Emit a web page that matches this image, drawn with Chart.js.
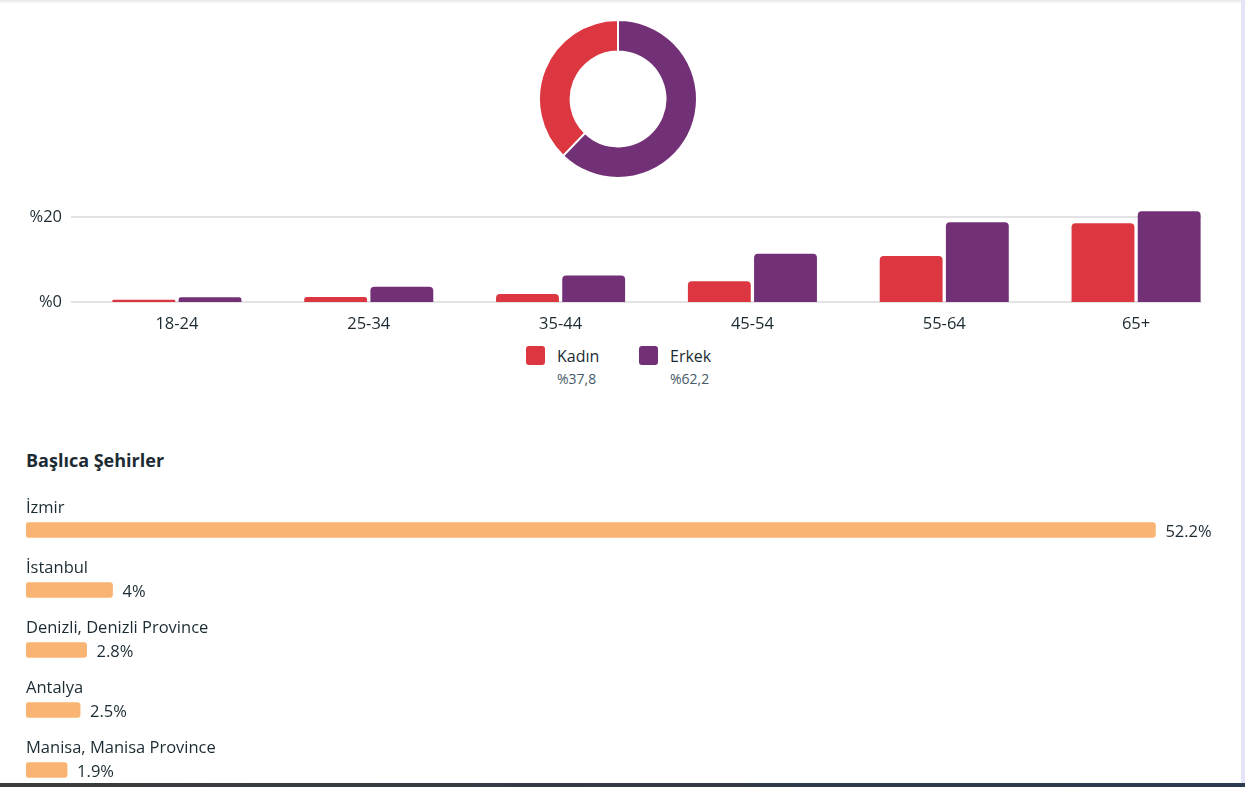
<!DOCTYPE html>
<html>
<head>
<meta charset="utf-8">
<script src="https://cdn.jsdelivr.net/npm/chart.js@4"></script>
<style>
  html, body { margin:0; padding:0; background:#fff; width:1245px; height:787px; overflow:hidden; font-family:"Open Sans", "Noto Sans", sans-serif; color:#1c2b33; }
  .abs { position:absolute; }
  #topShade { left:0; top:0; width:1245px; height:4px; background:linear-gradient(#e6e6ea,#fff); }
  #rightStrip { left:1241px; top:0; width:4px; height:787px; background:#e3e4f5; }
  #bottomStrip { left:0; top:783px; width:1245px; height:4px; background:linear-gradient(90deg,#3b3b3b,#2c3a52); z-index:5; }
  #donutBox { left:538px; top:19px; width:160px; height:160px; }
  #barBox { left:0; top:200px; width:1245px; height:140px; }
  #cityBox { left:0; top:480px; width:1245px; height:330px; }
  .leg { position:absolute; top:346px; }
  .sw { position:absolute; left:0; top:0; width:19px; height:19px; border-radius:3px; }
  .lt { position:absolute; left:31px; top:-1px; font-size:16px; white-space:nowrap; color:#1c2b33; }
  .ls { position:absolute; left:31px; top:23px; font-size:14px; white-space:nowrap; color:#465a69; }
  #title { left:26px; top:448px; font-size:18px; font-weight:700; color:#1c2b33; white-space:nowrap; }
</style>
</head>
<body>
<div id="topShade" class="abs"></div>
<div id="donutBox" class="abs"><canvas id="donut"></canvas></div>
<div id="barBox" class="abs"><canvas id="bars"></canvas></div>
<div id="legend"></div>
<div id="title" class="abs">Başlıca Şehirler</div>
<div id="cityBox" class="abs"><canvas id="cities"></canvas></div>
<div id="rightStrip" class="abs"></div>
<div id="bottomStrip" class="abs"></div>
<script>
// ---- data ----
const genderLabels = ['Kadın', 'Erkek'];
const genderShares = [37.8, 62.2];
const genderShareText = ['%37,8', '%62,2'];
const genderColors = ['#dc3740', '#723177'];

const ageGroups = ['18-24', '25-34', '35-44', '45-54', '55-64', '65+'];
const womenValues = [0.5, 1.2, 1.9, 4.9, 10.8, 18.5];
const menValues = [1.1, 3.6, 6.2, 11.3, 18.7, 21.3];
const yTickValues = [0, 20];
const yTickLabels = ['%0', '%20'];

const cityNames = ['İzmir', 'İstanbul', 'Denizli, Denizli Province', 'Antalya', 'Manisa, Manisa Province'];
const cityValues = [52.2, 4, 2.8, 2.5, 1.9];
const cityColor = '#f9b474';

const FONT = '"Open Sans", "Noto Sans", sans-serif';
const TEXT = '#1c2b33';
Chart.defaults.font.family = FONT;
Chart.defaults.color = TEXT;

// ---- donut ----
new Chart(document.getElementById('donut'), {
  type: 'doughnut',
  data: { labels: genderLabels, datasets: [{ data: genderShares, backgroundColor: genderColors, borderColor: '#fff', borderWidth: 2 }] },
  options: {
    responsive: true, maintainAspectRatio: false, animation: false,
    rotation: -(genderShares[0] / 100) * 360,
    cutout: '60%',
    plugins: { legend: { display: false }, tooltip: { enabled: false } }
  }
});

// ---- age bars ----
const gridPlugin = {
  id: 'customGrid',
  beforeDatasetsDraw(chart) {
    const { ctx, chartArea, scales } = chart;
    const meta = chart.getDatasetMeta(chart.data.datasets.length - 1);
    const last = meta.data[meta.data.length - 1];
    const right = last.x + last.width / 2 + 1;
    ctx.save();
    ctx.strokeStyle = '#e3e3e6';
    ctx.lineWidth = 2;
    yTickValues.forEach(v => {
      const y = Math.round(scales.y.getPixelForValue(v));
      ctx.beginPath();
      ctx.moveTo(chartArea.left - 10, y);
      ctx.lineTo(right, y);
      ctx.stroke();
    });
    ctx.restore();
  }
};
new Chart(document.getElementById('bars'), {
  type: 'bar',
  data: {
    labels: ageGroups,
    datasets: [
      { label: genderLabels[0], data: womenValues, backgroundColor: genderColors[0], borderRadius: 4, borderSkipped: 'bottom' },
      { label: genderLabels[1], data: menValues, backgroundColor: genderColors[1], borderRadius: 4, borderSkipped: 'bottom' }
    ]
  },
  options: {
    responsive: true, maintainAspectRatio: false, animation: false,
    layout: { padding: { top: 10, right: 13, left: 0, bottom: 0 } },
    datasets: { bar: { categoryPercentage: 0.69, barPercentage: 0.95 } },
    scales: {
      x: {
        grid: { display: false }, border: { display: false },
        ticks: { font: { size: 16.5 }, color: TEXT, padding: 4 },
        afterFit(s) { s.height = 38; s.paddingLeft = 0; s.paddingRight = 0; }
      },
      y: {
        min: 0, max: 21.6,
        grid: { display: false }, border: { display: false },
        afterBuildTicks(s) { s.ticks = yTickValues.map(v => ({ value: v })); },
        ticks: { font: { size: 16.5 }, color: TEXT, padding: 11,
          callback: (v) => yTickLabels[yTickValues.indexOf(v)] },
        afterFit(s) { s.width = 81; s.paddingTop = 0; s.paddingBottom = 0; }
      }
    },
    plugins: { legend: { display: false }, tooltip: { enabled: false } }
  },
  plugins: [gridPlugin]
});

// ---- HTML legend ----
const legendLeft = [526, 639];
const legendEl = document.getElementById('legend');
genderLabels.forEach((lab, i) => {
  const d = document.createElement('div');
  d.className = 'leg';
  d.style.left = legendLeft[i] + 'px';
  d.innerHTML = '<div class="sw" style="background:' + genderColors[i] + '"></div>' +
    '<div class="lt">' + lab + '</div><div class="ls">' + genderShareText[i] + '</div>';
  legendEl.appendChild(d);
});

// ---- cities ----
const cityLabelPlugin = {
  id: 'cityLabels',
  afterDatasetsDraw(chart) {
    const { ctx } = chart;
    const meta = chart.getDatasetMeta(0);
    ctx.save();
    ctx.fillStyle = TEXT;
    ctx.font = '16.5px ' + FONT;
    ctx.textBaseline = 'middle';
    meta.data.forEach((bar, i) => {
      ctx.textAlign = 'left';
      ctx.fillText(cityNames[i], chart.chartArea.left, bar.y - 22);
      ctx.fillText(cityValues[i] + '%', bar.x + 10, bar.y + 2);
    });
    ctx.restore();
  }
};
new Chart(document.getElementById('cities'), {
  type: 'bar',
  data: { labels: cityNames, datasets: [{ data: cityValues, backgroundColor: cityColor, barThickness: 15, borderRadius: 3, borderSkipped: false }] },
  options: {
    indexAxis: 'y',
    responsive: true, maintainAspectRatio: false, animation: false,
    layout: { padding: { top: 20, right: 29, left: 26, bottom: 10 } },
    scales: {
      x: { display: false, min: 0, max: 55 },
      y: { display: false }
    },
    plugins: { legend: { display: false }, tooltip: { enabled: false } }
  },
  plugins: [cityLabelPlugin]
});
</script>
</body>
</html>
